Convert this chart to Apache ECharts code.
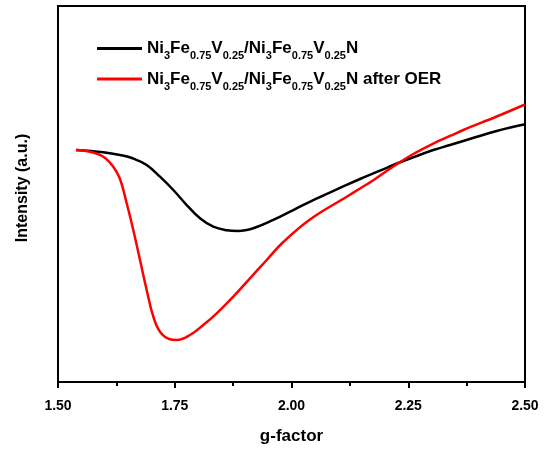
<!DOCTYPE html>
<html>
<head>
<meta charset="utf-8">
<script src="https://cdn.jsdelivr.net/npm/echarts@6/dist/echarts.min.js"></script>
<style>
  html, body { margin: 0; padding: 0; background: #fff; }
  #chart { width: 544px; height: 452px; }
</style>
</head>
<body>
<div id="chart"></div>
<script>
// EPR spectra: g-factor vs. intensity (arbitrary units)
const gBefore = [1.5385, 1.5970, 1.6328, 1.6612, 1.6899, 1.7184, 1.7469, 1.7756, 1.8041, 1.8325, 1.8612, 1.8861, 1.9182, 1.9610, 2.0039, 2.0467, 2.1039, 2.1467, 2.1895, 2.2180, 2.2608, 2.3036, 2.3394, 2.3679, 2.4394, 2.5000];
const iBefore = [61.70, 61.09, 60.37, 59.44, 57.71, 54.60, 51.06, 47.07, 43.54, 41.30, 40.37, 40.16, 40.88, 43.09, 45.74, 48.40, 51.60, 53.99, 56.20, 57.71, 59.76, 61.70, 63.03, 64.10, 66.76, 68.54];

const gAfter = [1.5385, 1.5685, 1.5970, 1.6184, 1.6328, 1.6471, 1.6612, 1.6756, 1.6899, 1.7041, 1.7184, 1.7398, 1.7542, 1.7827, 1.8111, 1.8398, 1.8754, 1.9111, 1.9469, 1.9824, 2.0396, 2.1182, 2.1467, 2.1752, 2.2180, 2.2608, 2.3036, 2.3394, 2.3679, 2.4394, 2.5000];
const iAfter = [61.70, 61.25, 59.92, 57.26, 53.99, 47.53, 40.43, 32.45, 24.47, 17.37, 13.38, 11.36, 11.17, 12.50, 15.16, 18.27, 22.69, 27.58, 32.45, 37.23, 43.22, 49.28, 51.46, 53.67, 57.31, 60.64, 63.43, 65.43, 67.02, 70.61, 73.80];

const xTicks = [1.5, 1.75, 2.0, 2.25, 2.5];
const seriesNames = ['Ni3Fe0.75V0.25/Ni3Fe0.75V0.25N', 'Ni3Fe0.75V0.25/Ni3Fe0.75V0.25N after OER'];

const pair = (xs, ys) => xs.map((x, i) => [x, ys[i]]);

// rich-text legend label with subscripts
const formula = '{m|Ni}{s|3}{m|Fe}{s|0.75}{m|V}{s|0.25}{m|/Ni}{s|3}{m|Fe}{s|0.75}{m|V}{s|0.25}{m|N}';
const legendLabel = name => name.endsWith('after OER') ? formula + '{m| after OER}' : formula;

const FONT = '"Liberation Sans", Arial, sans-serif';

const chart = echarts.init(document.getElementById('chart'), null, { renderer: 'canvas' });
chart.setOption({
  backgroundColor: '#fff',
  animation: false,
  grid: {
    left: 58, right: 19, top: 6, bottom: 70,
    show: true, borderColor: '#000', borderWidth: 2, backgroundColor: 'transparent'
  },
  legend: {
    orient: 'vertical',
    left: 97, top: 40, padding: 0,
    icon: 'rect',
    itemWidth: 45, itemHeight: 3, itemGap: 9,
    data: seriesNames,
    formatter: legendLabel,
    textStyle: {
      rich: {
        m: { fontFamily: FONT, fontWeight: 'bold', fontSize: 17, color: '#000', lineHeight: 26, verticalAlign: 'middle' },
        s: { fontFamily: FONT, fontWeight: 'bold', fontSize: 11, color: '#000', lineHeight: 26, verticalAlign: 'bottom' }
      }
    }
  },
  xAxis: {
    type: 'value',
    min: xTicks[0], max: xTicks[xTicks.length - 1], interval: 0.25,
    name: 'g-factor', nameLocation: 'middle', nameGap: 46,
    nameTextStyle: { fontFamily: FONT, fontWeight: 'bold', fontSize: 17, color: '#000' },
    axisLine: { lineStyle: { color: '#000', width: 2 } },
    axisTick: { show: true, inside: false, length: 6, lineStyle: { color: '#000', width: 2 } },
    minorTick: { show: true, splitNumber: 2, length: 4, lineStyle: { color: '#000', width: 2 } },
    splitLine: { show: false },
    axisLabel: {
      margin: 17, fontFamily: FONT, fontWeight: 'bold', fontSize: 14, color: '#000',
      formatter: v => v.toFixed(2)
    }
  },
  yAxis: {
    type: 'value', min: 0, max: 100,
    name: 'Intensity (a.u.)', nameLocation: 'middle', nameGap: 27,
    nameTextStyle: { fontFamily: FONT, fontWeight: 'bold', fontSize: 16, color: '#000', padding: [0, 0, 0, 12] },
    axisLine: { show: true, lineStyle: { color: '#000', width: 2 } },
    axisTick: { show: false },
    axisLabel: { show: false },
    splitLine: { show: false }
  },
  series: [
    {
      name: seriesNames[0], type: 'line', data: pair(gBefore, iBefore),
      smooth: 0.4, symbol: 'none', color: '#000',
      lineStyle: { color: '#000', width: 2.5 }
    },
    {
      name: seriesNames[1], type: 'line', data: pair(gAfter, iAfter),
      smooth: 0.4, symbol: 'none', color: '#ff0000',
      lineStyle: { color: '#ff0000', width: 2.5 }
    }
  ]
});
</script>
</body>
</html>
